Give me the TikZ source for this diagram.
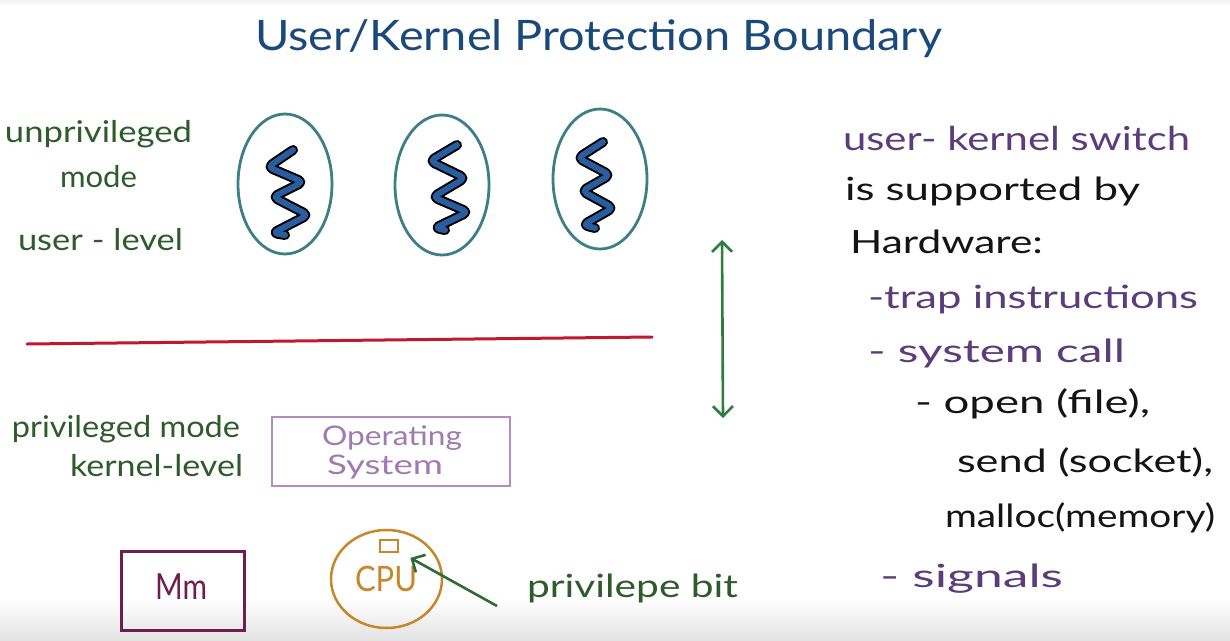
\documentclass[tikz,border=0pt]{standalone}
\usepackage{fontspec}
\setmainfont{Lato}
\usetikzlibrary{shapes.geometric,arrows.meta}
\definecolor{titleblue}{HTML}{1B4A7A}
\definecolor{hgreen}{HTML}{2E5B2A}
\definecolor{hpurple}{HTML}{5A3D7A}
\definecolor{hblack}{HTML}{141414}
\definecolor{tealc}{HTML}{3E7E87}
\definecolor{squig}{HTML}{2A5CA0}
\definecolor{redline}{HTML}{C0182E}
\definecolor{agreen}{HTML}{2E7D3A}
\definecolor{osbox}{HTML}{B58CC0}
\definecolor{ostext}{HTML}{A07AB0}
\definecolor{mmc}{HTML}{6E1E4E}
\definecolor{cpuc}{HTML}{C8862A}
\definecolor{pgreen}{HTML}{2E6B35}
\newsavebox\fitbox
\newlength\fitlen
\newcommand\fitx[2]{\sbox\fitbox{#2}\setlength\fitlen{\wd\fitbox}\pgfmathsetmacro\fitfac{#1/\fitlen}\scalebox{\fitfac}[1]{\usebox\fitbox}}
\newcommand\fsz[1]{\fontsize{#1}{#1}\selectfont}
\begin{document}
\begin{tikzpicture}[x=1pt,y=-1pt,
  lbl/.style={inner sep=0pt, outer sep=0pt, anchor=base west},
  ell/.style={ellipse, draw=tealc, line width=2.8pt, minimum width=94pt, minimum height=140pt, inner sep=0pt},
  squigout/.style={line width=10pt, draw=black, rounded corners=5pt, line cap=round, line join=round},
  squigin/.style={line width=6pt, draw=squig, rounded corners=5pt, line cap=round, line join=round},
  barb/.style={-{Straight Barb[length=10pt,width=20pt]}},
]
\useasboundingbox (0,0) rectangle (1230,640);
\fill[white] (0,0) rectangle (1230,640);
\shade[top color=white, bottom color=black!11] (0,598) rectangle (1230,640);
\shade[top color=black!5, bottom color=white] (0,0) rectangle (1230,6);

% title
\node[lbl, text=titleblue, font=\fsz{42}] (title) at (255,50) {\fitx{687}{User/Kernel Protection Boundary}};

% left labels
\node[lbl, text=hgreen, font=\fsz{30}] (unpriv) at (5,142) {\fitx{187}{unprivileged}};
\node[lbl, text=hgreen, font=\fsz{30}] (mode) at (60,187) {\fitx{77}{mode}};
\node[lbl, text=hgreen, font=\fsz{30}] (userlevel) at (18,250) {\fitx{165}{user - level}};
\node[lbl, text=hgreen, font=\fsz{30}] (privmode) at (12,437) {\fitx{228}{privileged mode}};
\node[lbl, text=hgreen, font=\fsz{30}] (kernlevel) at (70,476) {\fitx{173}{kernel-level}};

% processes
\node[ell] (p1) at (285,184) {};
\node[ell] (p2) at (442,185) {};
\node[ell] (p3) at (600,179) {};
\draw[squigout] (293,150) -- (268,167) -- (303,182) -- (273,197) -- (308,215) -- (273,233) -- (285,235);
\draw[squigin]  (293,150) -- (268,167) -- (303,182) -- (273,197) -- (308,215) -- (273,233) -- (285,235);
\draw[squigout] (457,145) -- (430,161) -- (465,178) -- (433,197) -- (468,212) -- (435,228) -- (445,230);
\draw[squigin]  (457,145) -- (430,161) -- (465,178) -- (433,197) -- (468,212) -- (435,228) -- (445,230);
\draw[squigout] (603,142) -- (578,158) -- (610,175) -- (582,191) -- (613,208) -- (583,225) -- (595,228);
\draw[squigin]  (603,142) -- (578,158) -- (610,175) -- (582,191) -- (613,208) -- (583,225) -- (595,228);

% boundary line
\coordinate (rl) at (27,344);
\coordinate (rr) at (652,337);
\draw[redline, line width=3pt, line cap=round] (rl) -- (rr);

% switch arrow
\coordinate (ua) at (722,240);
\coordinate (ub) at (723,418);
\draw[agreen, line width=2.6pt, {Straight Barb[length=10pt,width=20pt]}-{Straight Barb[length=10pt,width=20pt]}] (ua) -- (ub);

% operating system
\node[draw=osbox, line width=1.8pt, minimum width=238pt, minimum height=69pt, inner sep=0pt] (os) at (391,451.5) {};
\node[lbl, text=ostext, font=\fsz{27}] (os1) at (322,445) {\fitx{140}{Operating}};
\node[lbl, text=ostext, font=\fsz{27}] (os2) at (327,474) {\fitx{116}{System}};

% memory
\node[draw=mmc, line width=3pt, minimum width=123pt, minimum height=79pt, inner sep=0pt] (mmbox) at (182.5,590.5) {};
\node[lbl, text=mmc, font=\fsz{36}] (mm) at (155,599) {\fitx{52}{Mm}};

% cpu
\node[ellipse, draw=cpuc, line width=2.5pt, minimum width=111pt, minimum height=98pt, inner sep=0pt] (cpuell) at (386.5,579) {};
\node[draw=cpuc, line width=2pt, minimum width=18pt, minimum height=12pt, inner sep=0pt] (bit) at (389,546) {};
\node[lbl, text=cpuc, font=\fsz{35}] (cpu) at (355,591) {\fitx{62}{CPU}};

% privilege bit pointer
\coordinate (pstart) at (497,606);
\draw[pgreen, line width=2.6pt, barb, shorten >=13pt] (pstart) -- (bit);
\node[lbl, text=hgreen, font=\fsz{32}] (privbit) at (527,597) {\fitx{211}{privilepe bit}};

% right column
\node[lbl, text=hpurple, font=\fsz{33}] (r1) at (843,150) {\fitx{347}{user- kernel switch}};
\node[lbl, text=hblack, font=\fsz{32}] (r2) at (845,200) {\fitx{295}{is supported by}};
\node[lbl, text=hblack, font=\fsz{32}] (r3) at (850,253) {\fitx{193}{Hardware:}};
\node[lbl, text=hpurple, font=\fsz{32}] (r4) at (868,308) {\fitx{330}{-trap instructions}};
\node[lbl, text=hpurple, font=\fsz{32}] (r5) at (868,362) {\fitx{257}{- system call}};
\node[lbl, text=hblack, font=\fsz{32}] (r6) at (915,413) {\fitx{235}{- open (file),}};
\node[lbl, text=hblack, font=\fsz{32}] (r7) at (957,472) {\fitx{256}{send (socket),}};
\node[lbl, text=hblack, font=\fsz{32}] (r8) at (945,527) {\fitx{270}{malloc(memory)}};
\node[lbl, text=hpurple, font=\fsz{32}] (r9) at (880,587) {\fitx{183}{- signals}};
\end{tikzpicture}
\end{document}
